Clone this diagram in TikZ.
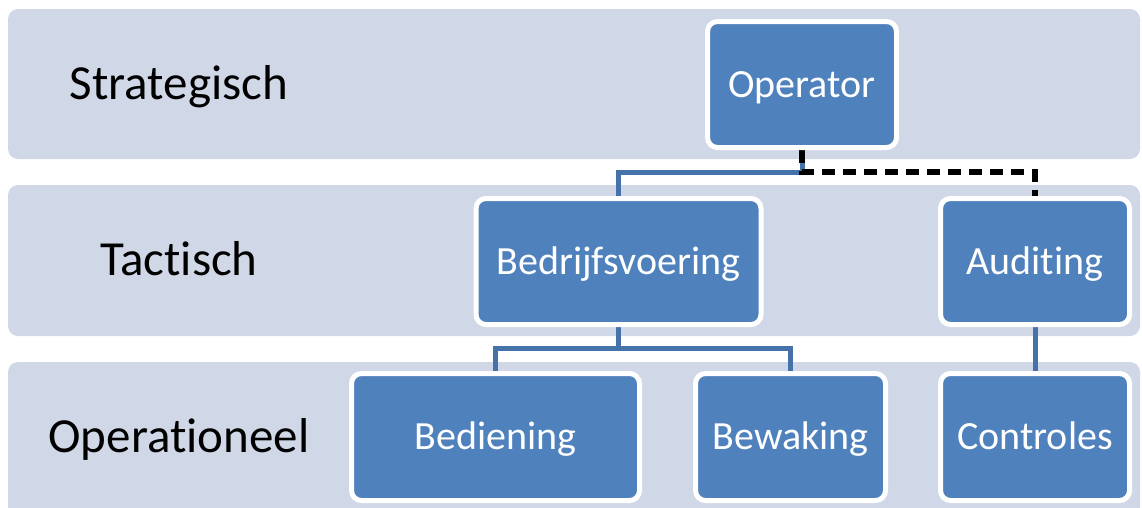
\documentclass[tikz,border=0pt]{standalone}
\usepackage{fontspec}
\setmainfont{Carlito}[Ligatures={NoCommon}]
\pgfdeclarelayer{bands}
\pgfdeclarelayer{lines}
\pgfsetlayers{bands,lines,main}
\definecolor{bandc}{HTML}{D0D8E8}
\definecolor{boxc}{HTML}{4F81BD}
\definecolor{linec}{HTML}{4672AA}
\tikzset{
  band/.style={fill=bandc, draw=none, rounded corners=10pt},
  unit/.style={draw=white, line width=5pt, fill=boxc, rounded corners=10pt,
    inner sep=0pt, minimum height=126pt, text=white,
    font=\fontsize{40pt}{44pt}\selectfont, text height=30pt, text depth=5pt},
  level/.style={inner sep=0pt, font=\fontsize{49pt}{54pt}\selectfont,
    text height=35pt, text depth=5pt},
  link/.style={draw=linec, line width=5pt},
  audit/.style={draw=black, line width=5.5pt, dash pattern=on 13pt off 8pt}
}
\begin{document}
\begin{tikzpicture}[x=1pt,y=-1pt]
\useasboundingbox (0,0) rectangle (1142,507);
\clip (0,0) rectangle (1142,507);
\begin{pgfonlayer}{bands}
  \fill[band] (8,9) rectangle (1140,159);
  \fill[band] (8,185) rectangle (1140,336);
  \fill[band] (8,362) rectangle (1140,530);
\end{pgfonlayer}
\node[level] (lblS) at (179,84) {Strategisch};
\node[level] (lblT) at (179,260) {Tactisch};
\node[level] (lblO) at (179,437) {Operationeel};

\node[unit, minimum width=189pt] (op) at (802,84.5) {Operator};
\node[unit, minimum width=285pt] (bv) at (618.5,261.5) {Bedrijfsvoering};
\node[unit, minimum width=189pt] (au) at (1035,261.5) {Auditing};
\node[unit, minimum width=288pt, minimum height=127pt] (bd) at (495.5,437) {Bediening};
\node[unit, minimum width=190pt, minimum height=127pt] (bw) at (790.5,437) {Bewaking};
\node[unit, minimum width=189pt, minimum height=127pt] (ct) at (1035,437) {Controles};

\coordinate (j1) at (op.south |- 0,172);
\coordinate (j2) at (bv.south |- 0,348);
\begin{pgfonlayer}{lines}
  \draw[link] (bv.north) |- (j1) -- (op.south);
  \draw[link] (bd.north) |- (j2) -| (bw.north);
  \draw[link] (bv.south) -- (j2);
  \draw[link] (au.south) -- (ct.north);
  \draw[audit] (op.south) -- (j1) -| (au.north);
\end{pgfonlayer}
\end{tikzpicture}
\end{document}
